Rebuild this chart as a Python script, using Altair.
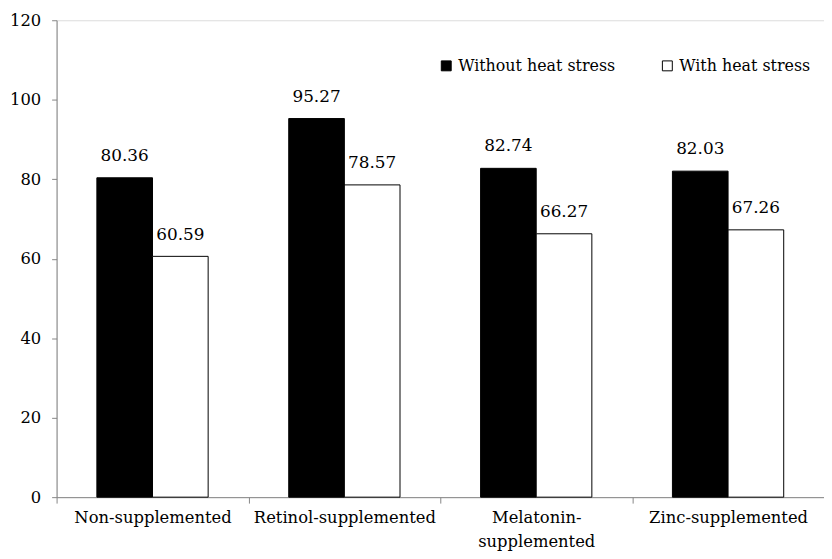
import altair as alt
import pandas as pd

categories = ["Non-supplemented", "Retinol-supplemented", "Melatonin-supplemented", "Zinc-supplemented"]
series = ["Without heat stress", "With heat stress"]
without_heat = [80.36, 95.27, 82.74, 82.03]
with_heat = [60.59, 78.57, 66.27, 67.26]

rows = []
for i, c in enumerate(categories):
    rows.append({"group": c, "series": series[0], "value": without_heat[i]})
    rows.append({"group": c, "series": series[1], "value": with_heat[i]})
df = pd.DataFrame(rows)

FONT = "DejaVu Serif"
W = 774
H = 481
step = W / 4
PI = 0.42
off = PI * step / 2

x = alt.X("group:N", sort=categories, title=None,
          scale=alt.Scale(paddingInner=PI, paddingOuter=PI / 2),
          axis=alt.Axis(bandPosition=0, tickOffset=-off, labelOffset=off, labelAngle=0,
                        labelFont=FONT, labelFontSize=16.5, labelColor="black",
                        labelBaseline="top", labelPadding=7, labelLimit=400,
                        labelExpr="datum.label == 'Melatonin-supplemented' ? ['Melatonin-', 'supplemented'] : datum.label",
                        labelLineHeight=24,
                        domainColor="#868686", tickColor="#868686", tickSize=6))
xo = alt.XOffset("series:N", sort=series, scale=alt.Scale(paddingInner=0, paddingOuter=0))
y = alt.Y("value:Q", title=None,
          scale=alt.Scale(domain=[0, 120], nice=False),
          axis=alt.Axis(values=[0, 20, 40, 60, 80, 100, 120], grid=False,
                        labelFont=FONT, labelFontSize=16.5, labelColor="black",
                        labelPadding=11, domainColor="#868686", tickColor="#868686",
                        tickSize=5))

bars = alt.Chart(df).mark_bar(stroke="black", strokeWidth=1).encode(
    x=x, xOffset=xo, y=y,
    fill=alt.Fill("series:N", sort=series,
                  scale=alt.Scale(domain=series, range=["black", "white"]),
                  legend=alt.Legend(title=None, orient="none", legendX=385, legendY=38,
                                    direction="horizontal", symbolType="square",
                                    symbolSize=100, symbolStrokeColor="black",
                                    symbolStrokeWidth=1, labelFont=FONT, labelFontSize=16,
                                    labelColor="black", labelOffset=4, columnPadding=44,
                                    labelLimit=300)),
)

labels = alt.Chart(df).mark_text(font=FONT, fontSize=17, color="black", dy=-13,
                                 baseline="bottom").encode(
    x=x, xOffset=xo, y=y,
    text=alt.Text("value:Q", format=".2f"),
)

chart = alt.layer(bars, labels).properties(
    width=W, height=H,
    autosize=alt.AutoSizeParams(type="none"),
    padding={"left": 49, "top": 10, "right": 0, "bottom": 58},
).configure_view(stroke=None).configure(background="white")

chart.save("out.html", embed_options={"renderer": "svg", "actions": False})
